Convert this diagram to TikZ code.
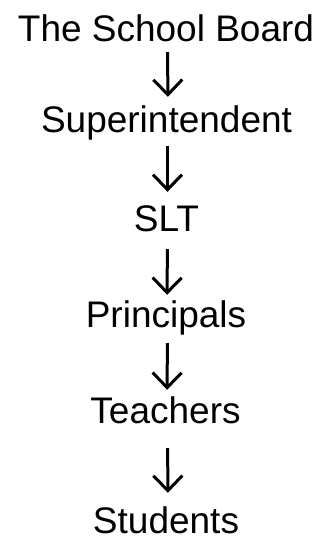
\documentclass[tikz,border=0pt]{standalone}
\usepackage{fontspec}
\setmainfont{Liberation Sans}
\usetikzlibrary{arrows.meta}

\begin{document}
\begin{tikzpicture}[
  x=1pt, y=-1pt,
  level/.style={font=\fontsize{37}{37}\selectfont, inner sep=0pt, text height=27pt, text depth=5pt, anchor=base},
  down/.style={-{Straight Barb[length=15pt,width=29pt]}, line width=3pt}
]
\useasboundingbox (0,0) rectangle (320,540);
\node[level] (board) at (166,42) {The School Board};
\node[level] (super) at (166.5,133) {Superintendent};
\node[level] (slt) at (166.5,231) {SLT};
\node[level] (princ) at (166,327) {Principals};
\node[level] (teach) at (165.5,423) {Teachers};
\node[level] (stud) at (166,533) {Students};
% arrows between levels
\draw[down, shorten <=5pt, shorten >=9pt] ([xshift=1.5pt]board.south) -- ([xshift=1.5pt]super.north);
\draw[down, shorten <=8pt, shorten >=12pt] ([xshift=1pt]super.south) -- ([xshift=1pt]slt.north);
\draw[down, shorten <=13pt, shorten >=5pt] ([xshift=1pt]slt.south) -- ([xshift=1pt]princ.north);
\draw[down, shorten <=11pt, shorten >=6pt] ([xshift=1.5pt]princ.south) -- ([xshift=1.5pt]teach.north);
\draw[down, shorten <=20pt, shorten >=13pt] ([xshift=2pt]teach.south) -- ([xshift=2pt]stud.north);
\end{tikzpicture}
\end{document}
